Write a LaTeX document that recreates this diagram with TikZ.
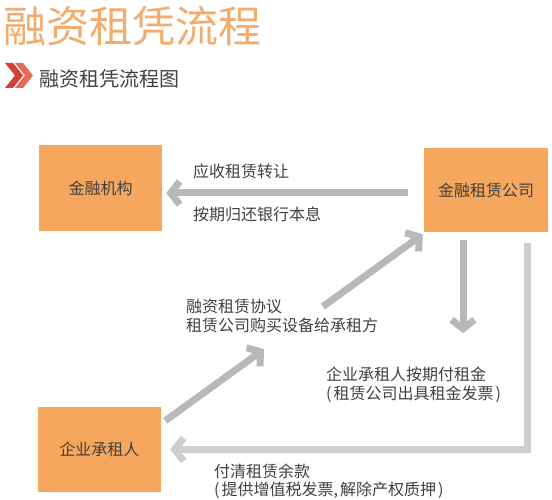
\documentclass[tikz,border=0pt]{standalone}
\usepackage{fontspec}
\setmainfont{Noto Sans CJK SC}
\usetikzlibrary{arrows.meta, calc}

\definecolor{titleorange}{RGB}{241,172,110}
\definecolor{boxorange}{RGB}{246,167,94}
\definecolor{textgray}{RGB}{64,64,64}
\definecolor{arrowgray}{RGB}{184,184,184}
\definecolor{returngray}{RGB}{206,206,206}
\definecolor{chevdark}{RGB}{214,64,52}
\definecolor{chevlight}{RGB}{232,104,88}

\tikzset{
	box/.style = {fill = boxorange, minimum width = 123pt, minimum height = 85pt, inner sep = 0pt, text = textgray, font = \fontsize{16}{19}\selectfont},
	lbl/.style = {anchor = base west, inner sep = 0pt, align = left, text = textgray, font = \fontsize{16}{19}\selectfont},
	flow/.style = {line width = 7pt, arrowgray, line join = miter}
}

\begin{document}
\begin{tikzpicture}[> = {Straight Barb[length = 9pt, width = 23pt]}, x = 1pt, y = -1pt]

	\useasboundingbox (0, 0) rectangle (552, 500);

	% Headings

	\node [anchor = base west, inner sep = 0pt, text = titleorange, font = \fontsize{43}{43}\selectfont] (title) at (3, 43) {融资租凭流程};

	\foreach \x/\c in {0/chevdark, 10/chevlight}
		\fill [\c] (5 + \x, 63) -- (13 + \x, 63) -- (23 + \x, 75.5) -- (13 + \x, 88) -- (5 + \x, 88) -- (15 + \x, 75.5) -- cycle;

	\node [anchor = base west, inner sep = 0pt, text = textgray, font = \fontsize{20}{20}\selectfont] (subtitle) at (39, 87) {融资租凭流程图};

	% Parties

	\node [box] (bank) at (100.5, 188) {金融机构};
	\node [box, minimum width = 124pt, minimum height = 84pt] (rent) at (486, 190) {金融租赁公司};
	\node [box] (lessee) at (99.5, 449.5) {企业承租人};

	% Arrows

	\draw [flow, ->] ([shift = {(-16, 3)}]rent.west) -- ([shift = {(4, 5)}]bank.east);

	\coordinate (d0) at ([shift = {(4, 14)}]lessee.north east);
	\coordinate (d1) at ([shift = {(-1, 2)}]rent.south west);
	\draw [flow, ->] (d0) -- ($(d0)!0.384!(d1)$);
	\draw [flow, ->] ($(d0)!0.612!(d1)$) -- (d1);

	\draw [flow, ->] ([shift = {(-23, 8)}]rent.south) -- ++(0, 93);

	\draw [flow, returngray, ->] ([shift = {(41, 11)}]rent.south) |- ([shift = {(9, 0)}]lessee.east);

	% Labels (base = last line)

	\node [lbl] (assign) at (193, 178) {应收租赁转让};
	\node [lbl] (repay) at (193, 221) {按期归还银行本息};
	\node [lbl] (contract) at (186, 331) {融资租赁协议\\租赁公司购买设备给承租方};
	\node [lbl] (rentpay) at (326, 399) {企业承租人按期付租金\\(\kern2pt 租赁公司出具租金发票\kern2pt)};
	\node [lbl, font = \fontsize{16}{18}\selectfont] (settle) at (214, 495) {付清租赁余款\\(\kern2pt 提供增值税发票,\kern2pt 解除产权质押\kern2pt)};

\end{tikzpicture}
\end{document}
